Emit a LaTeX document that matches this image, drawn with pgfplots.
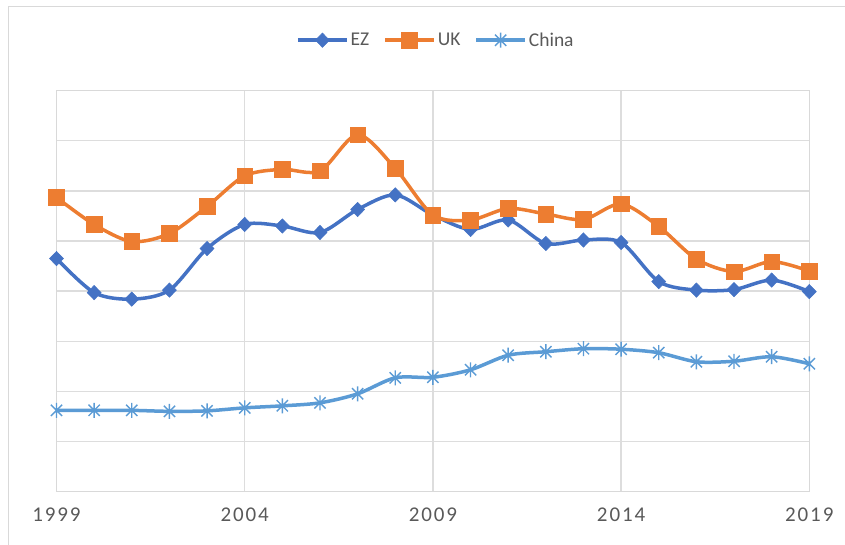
\documentclass[border=0pt]{standalone}
\usepackage{fontspec}
\setmainfont{Carlito}
\newfontfamily\tickfont[LetterSpace=9]{Carlito}
\usepackage{pgfplots}
\usepackage{pgfplotstable}
\pgfplotsset{compat=1.18}
\definecolor{ez}{HTML}{4472C4}
\definecolor{uk}{HTML}{ED7D31}
\definecolor{cn}{HTML}{5B9BD5}
\definecolor{gridc}{HTML}{D9D9D9}
\definecolor{tickc}{HTML}{595959}

\pgfdeclareplotmark{xstar}{%
  \pgfpathmoveto{\pgfqpoint{0pt}{\pgfplotmarksize}}%
  \pgfpathlineto{\pgfqpoint{0pt}{-\pgfplotmarksize}}%
  \pgfpathmoveto{\pgfqpoint{-.75\pgfplotmarksize}{.75\pgfplotmarksize}}%
  \pgfpathlineto{\pgfqpoint{.75\pgfplotmarksize}{-.75\pgfplotmarksize}}%
  \pgfpathmoveto{\pgfqpoint{-.75\pgfplotmarksize}{-.75\pgfplotmarksize}}%
  \pgfpathlineto{\pgfqpoint{.75\pgfplotmarksize}{.75\pgfplotmarksize}}%
  \pgfusepathqstroke}

\pgfplotstableread{
year ez uk cn
1999 4.65 5.87 1.62
2000 3.97 5.33 1.62
2001 3.84 4.99 1.62
2002 4.02 5.15 1.60
2003 4.85 5.69 1.61
2004 5.33 6.30 1.67
2005 5.30 6.43 1.71
2006 5.17 6.40 1.77
2007 5.63 7.12 1.95
2008 5.92 6.45 2.27
2009 5.52 5.52 2.28
2010 5.23 5.42 2.43
2011 5.42 5.65 2.72
2012 4.95 5.54 2.79
2013 5.02 5.43 2.85
2014 4.97 5.74 2.84
2015 4.19 5.29 2.77
2016 4.02 4.64 2.59
2017 4.03 4.39 2.60
2018 4.22 4.59 2.69
2019 3.99 4.40 2.55
}\datatable

\begin{document}
\begin{tikzpicture}[x=1pt,y=1pt]
\path[use as bounding box] (0,0) rectangle (845,-544);
\draw[gridc, line width=1.2pt] (8.3,-550) -- (8.3,-6.7) -- (850,-6.7);
\begin{axis}[
  at={(56.5pt,-491.5pt)}, anchor=south west,
  scale only axis, width=752.8pt, height=400.8pt,
  xmin=1999, xmax=2019, ymin=0, ymax=8,
  xtick={1999,2004,2009,2014,2019},
  xticklabels={1999,2004,2009,2014,2019},
  ytick={0,1,...,8}, yticklabels={},
  grid=major,
  major grid style={gridc!90!white, line width=1.3pt},
  axis line style={gridc, line width=1.3pt},
  tick style={draw=none},
  xticklabel style={font=\tickfont\fontsize{21}{25}\selectfont, text=tickc, yshift=-13pt},
  clip=false,
  legend columns=3,
  legend style={at={(0.504,1.126)}, anchor=center, draw=none, fill=none,
    font=\fontsize{19.5}{23}\selectfont, text=tickc,
    /tikz/every even column/.append style={column sep=12pt},
    nodes={inner xsep=2pt}},
  legend image code/.code={\draw[mark repeat=2,mark phase=2,#1] plot coordinates {(0pt,0pt)(24.5pt,0pt)(49pt,0pt)};},
  every axis plot/.append style={line width=3.5pt, smooth},
]
\addplot[ez, mark=diamond*, mark size=7.2pt, mark options={line width=0.5pt, xscale=1.3}] table[x=year, y=ez] {\datatable};
\addlegendentry{EZ}
\addplot[uk, mark=square*, mark size=7.8pt, mark options={line width=0.5pt}] table[x=year, y=uk] {\datatable};
\addlegendentry{UK}
\addplot[cn, mark=xstar, mark size=7.5pt, mark options={line width=1.4pt}] table[x=year, y=cn] {\datatable};
\addlegendentry{China}
\end{axis}
\end{tikzpicture}
\end{document}
